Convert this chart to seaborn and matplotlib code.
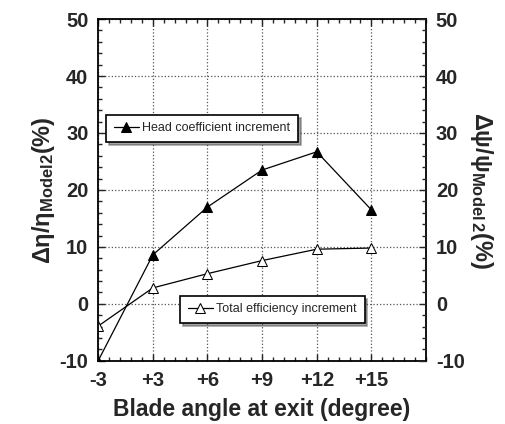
#!/usr/bin/env python3
"""Head coefficient / efficiency increment vs blade exit angle."""

import pandas as pd
import matplotlib
matplotlib.use('Agg')
import matplotlib.pyplot as plt
import seaborn as sns
from matplotlib.ticker import MultipleLocator

# data
angle_labels = ['-3', '+3', '+6', '+9', '+12', '+15']
head_increment = [-10.0, 8.6, 17.0, 23.5, 26.7, 16.5]
efficiency_increment = [-3.9, 2.8, 5.3, 7.6, 9.6, 9.8]

sns.set_theme(style='ticks')
plt.rcParams['font.family'] = ['Liberation Sans', 'DejaVu Sans']
plt.rcParams['font.weight'] = 'bold'
plt.rcParams['axes.unicode_minus'] = False
plt.rcParams['mathtext.fontset'] = 'custom'
plt.rcParams['mathtext.rm'] = 'Liberation Sans:bold'
plt.rcParams['mathtext.it'] = 'Liberation Sans:bold'
plt.rcParams['mathtext.bf'] = 'Liberation Sans:bold'

df = pd.DataFrame({
    'pos': list(range(len(angle_labels))),
    'head': head_increment,
    'eff': efficiency_increment,
})

fig = plt.figure(figsize=(5.06, 4.24), dpi=100)
ax = fig.add_axes([0.194, 0.149, 0.648, 0.806])

sns.lineplot(data=df, x='pos', y='head', ax=ax, color='black', linewidth=0.9,
             marker='^', markersize=7, markerfacecolor='black',
             markeredgecolor='black', label='Head coefficient increment')
sns.lineplot(data=df, x='pos', y='eff', ax=ax, color='black', linewidth=0.9,
             marker='^', markersize=7, markerfacecolor='white',
             markeredgecolor='black', label='Total efficiency increment')

ax.set_xlim(0, 6)
ax.set_ylim(-10, 50)
ax.set_xticks(df['pos'])
ax.set_xticklabels(angle_labels)
ax.xaxis.set_minor_locator(MultipleLocator(0.2))
ax.yaxis.set_major_locator(MultipleLocator(10))
ax.yaxis.set_minor_locator(MultipleLocator(2))
ax.grid(True, which='major', linestyle=':', color='#555555', linewidth=0.9)
ax.tick_params(which='both', direction='in', top=True, right=False, labelsize=14.5,
               width=1.0, pad=7)
ax.tick_params(which='major', length=5)
ax.tick_params(which='minor', length=3)
for s in ax.spines.values():
    s.set_linewidth(1.3)
    s.set_color('black')
for lab in ax.get_xticklabels() + ax.get_yticklabels():
    lab.set_fontweight('heavy')

ax.set_xlabel('Blade angle at exit (degree)', fontsize=16.5, fontweight='bold', labelpad=6)
ax.set_ylabel(r'$\Delta\eta/\eta_{Model2}$(%)', fontsize=17, fontweight='bold', labelpad=2)

# right axis mirrors the left scale
ax2 = ax.twinx()
ax2.set_ylim(-10, 50)
ax2.yaxis.set_major_locator(MultipleLocator(10))
ax2.yaxis.set_minor_locator(MultipleLocator(2))
ax2.tick_params(which='both', direction='in', labelsize=14.5, width=1.0, pad=7)
ax2.tick_params(which='major', length=5)
ax2.tick_params(which='minor', length=3)
for lab in ax2.get_yticklabels():
    lab.set_fontweight('heavy')
ax2.set_ylabel(r'$\Delta\psi/\psi_{Model\,2}$(%)', fontsize=17, fontweight='bold',
               rotation=270, labelpad=22)
for s in ax2.spines.values():
    s.set_visible(False)

# two separate boxed legends with shadow
handles, labels = ax.get_legend_handles_labels()
leg_style = dict(loc='upper left', frameon=True, fancybox=False, shadow=True,
                 handlelength=2.0, handletextpad=0.3, borderpad=0.6,
                 borderaxespad=0.0, edgecolor='black',
                 prop={'size': 9, 'weight': 'normal'})
leg1 = ax.legend([handles[0]], [labels[0]], bbox_to_anchor=(0.024, 0.72), **leg_style)
leg1.get_frame().set_linewidth(1.2)
ax.add_artist(leg1)
leg2 = ax.legend([handles[1]], [labels[1]], bbox_to_anchor=(0.25, 0.19), **leg_style)
leg2.get_frame().set_linewidth(1.2)

fig.savefig('out.png', dpi=100)
plt.close(fig)
